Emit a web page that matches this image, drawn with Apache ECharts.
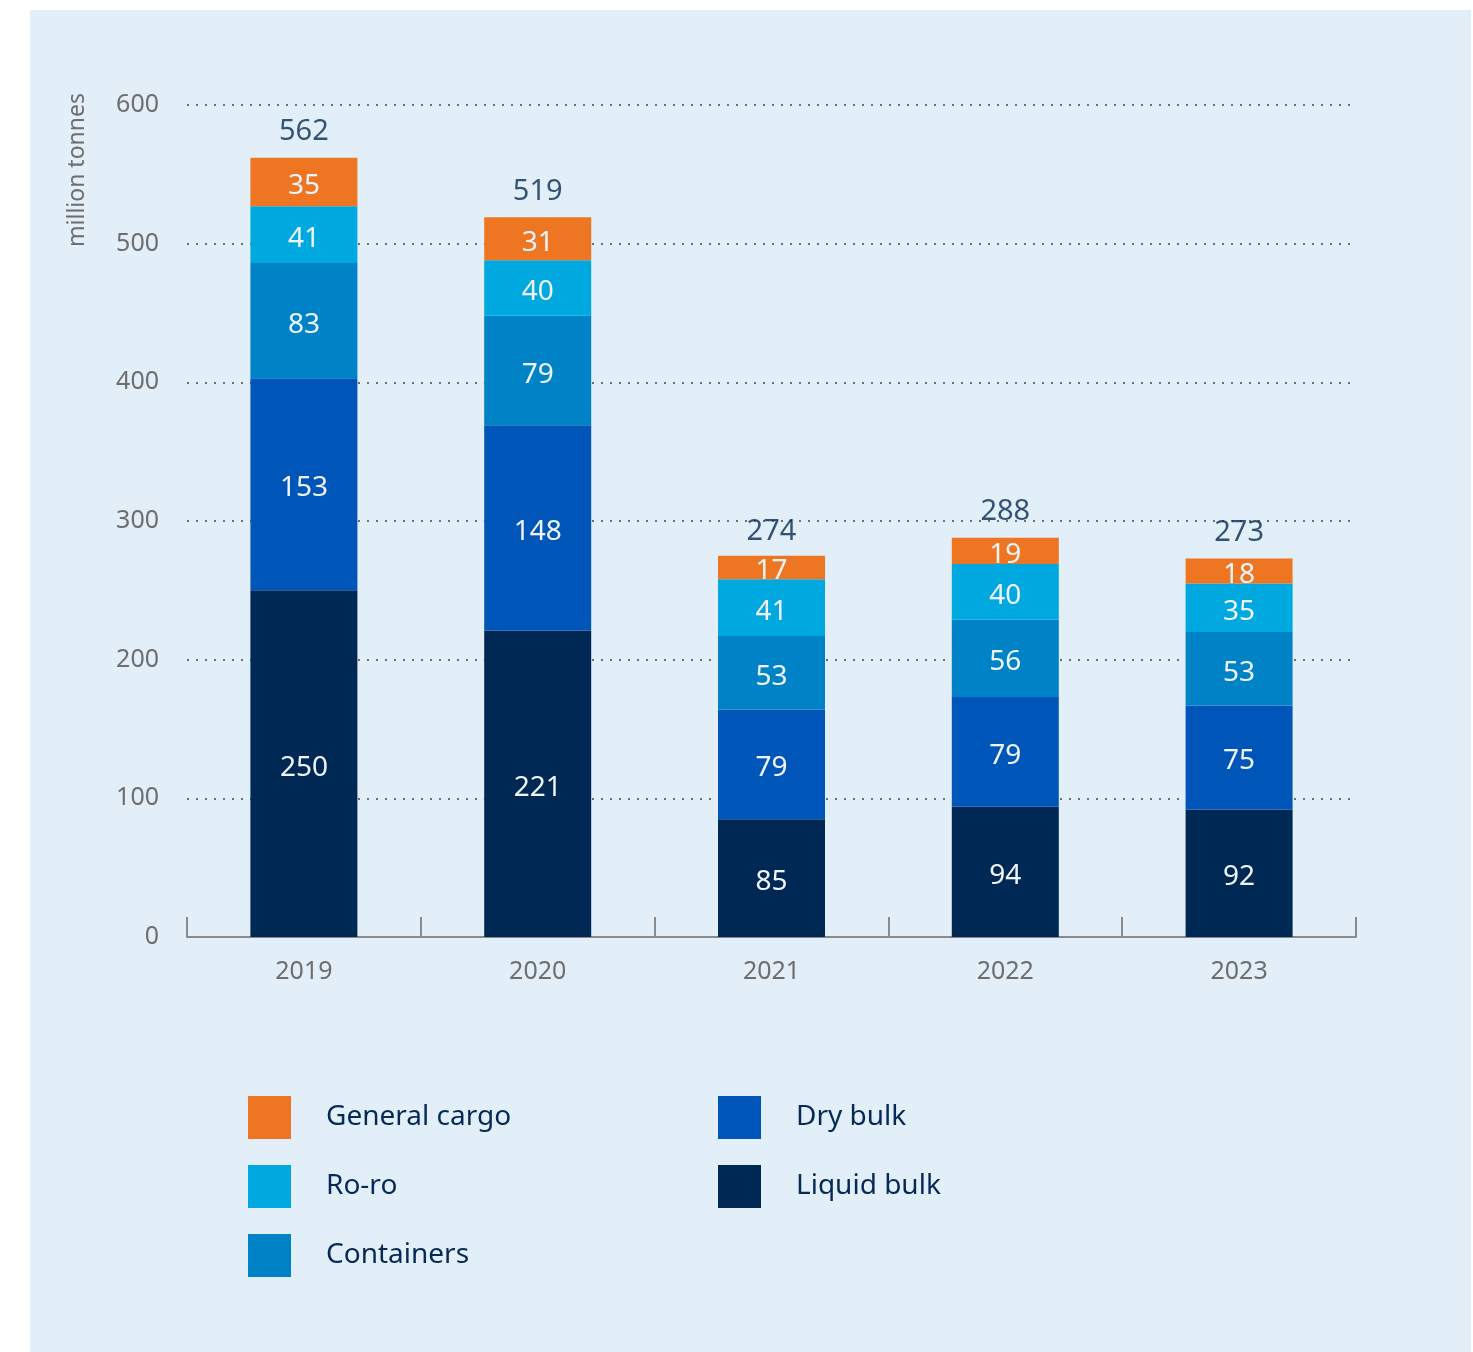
<!DOCTYPE html>
<html>
<head>
<meta charset="utf-8">
<script src="https://cdn.jsdelivr.net/npm/echarts@6/dist/echarts.min.js"></script>
<style>
  html, body { margin: 0; padding: 0; background: #ffffff; }
  #panel { position: absolute; left: 30px; top: 10px; width: 1441px; height: 1342px; background: #e2eff8; }
  #chart { position: absolute; left: 0; top: 0; width: 1473px; height: 1352px; }
</style>
</head>
<body>
<div id="panel"></div>
<div id="chart"></div>
<script>
const years = ['2019', '2020', '2021', '2022', '2023'];
const liquidBulk = [250, 221, 85, 94, 92];
const dryBulk = [153, 148, 79, 79, 75];
const containers = [83, 79, 53, 56, 53];
const roRo = [41, 40, 41, 40, 35];
const generalCargo = [35, 31, 17, 19, 18];
const totals = [562, 519, 274, 288, 273];
const yTicks = [0, 100, 200, 300, 400, 500, 600];

const FONT = '"Noto Sans", "Open Sans", sans-serif';
const insideLabel = {
  show: true, position: 'inside', offset: [0, 4], color: '#eef4fa', fontSize: 28, fontFamily: FONT
};
function barSeries(name, data, color) {
  return {
    name: name, type: 'bar', stack: 'total', data: data, barWidth: 107,
    itemStyle: { color: color }, label: insideLabel, emphasis: { disabled: true }
  };
}

const chart = echarts.init(document.getElementById('chart'), null, { renderer: 'canvas' });
chart.setOption({
  animation: false,
  textStyle: { fontFamily: FONT },
  grid: { left: 187, right: 117, top: 105, bottom: 415, containLabel: false },
  xAxis: {
    type: 'category', data: years, boundaryGap: true,
    axisLine: { lineStyle: { color: '#8a8a8a', width: 2 } },
    axisTick: { show: true, inside: true, length: 20, lineStyle: { color: '#8a8a8a', width: 2 } },
    axisLabel: { color: '#6e6e6e', fontSize: 25, margin: 22, fontFamily: FONT }
  },
  yAxis: {
    type: 'value', min: yTicks[0], max: yTicks[yTicks.length - 1], interval: 100,
    axisLine: { show: false }, axisTick: { show: false },
    axisLabel: { color: '#6e6e6e', fontSize: 25, margin: 28, fontFamily: FONT },
    splitLine: { show: true, lineStyle: { color: '#6e6e6e', width: 2, type: [2, 7] } }
  },
  legend: [
    {
      data: ['General cargo', 'Ro-ro', 'Containers'],
      orient: 'vertical', left: 248, top: 1096, padding: 0, itemWidth: 43, itemHeight: 43, itemGap: 26,
      icon: 'rect', selectedMode: false,
      textStyle: { color: '#062a55', fontSize: 28, fontFamily: FONT, padding: [6, 0, 0, 30] }
    },
    {
      data: ['Dry bulk', 'Liquid bulk'],
      orient: 'vertical', left: 718, top: 1096, padding: 0, itemWidth: 43, itemHeight: 43, itemGap: 26,
      icon: 'rect', selectedMode: false,
      textStyle: { color: '#062a55', fontSize: 28, fontFamily: FONT, padding: [6, 0, 0, 30] }
    }
  ],
  graphic: [
    {
      type: 'text', x: 77, y: 170, rotation: Math.PI / 2,
      style: { text: 'million tonnes', fill: '#6e6e6e', fontSize: 23, fontFamily: FONT,
               align: 'center', verticalAlign: 'middle' }
    }
  ],
  series: [
    barSeries('Liquid bulk', liquidBulk, '#002855'),
    barSeries('Dry bulk', dryBulk, '#0055b8'),
    barSeries('Containers', containers, '#0083c6'),
    barSeries('Ro-ro', roRo, '#00a8e0'),
    barSeries('General cargo', generalCargo, '#ee7623'),
    {
      name: 'Total', type: 'scatter', data: totals, symbolSize: 0,
      label: { show: true, position: 'top', distance: 11, color: '#062a55', fontSize: 29, fontFamily: FONT },
      emphasis: { disabled: true }, silent: true
    }
  ]
});
</script>
</body>
</html>
